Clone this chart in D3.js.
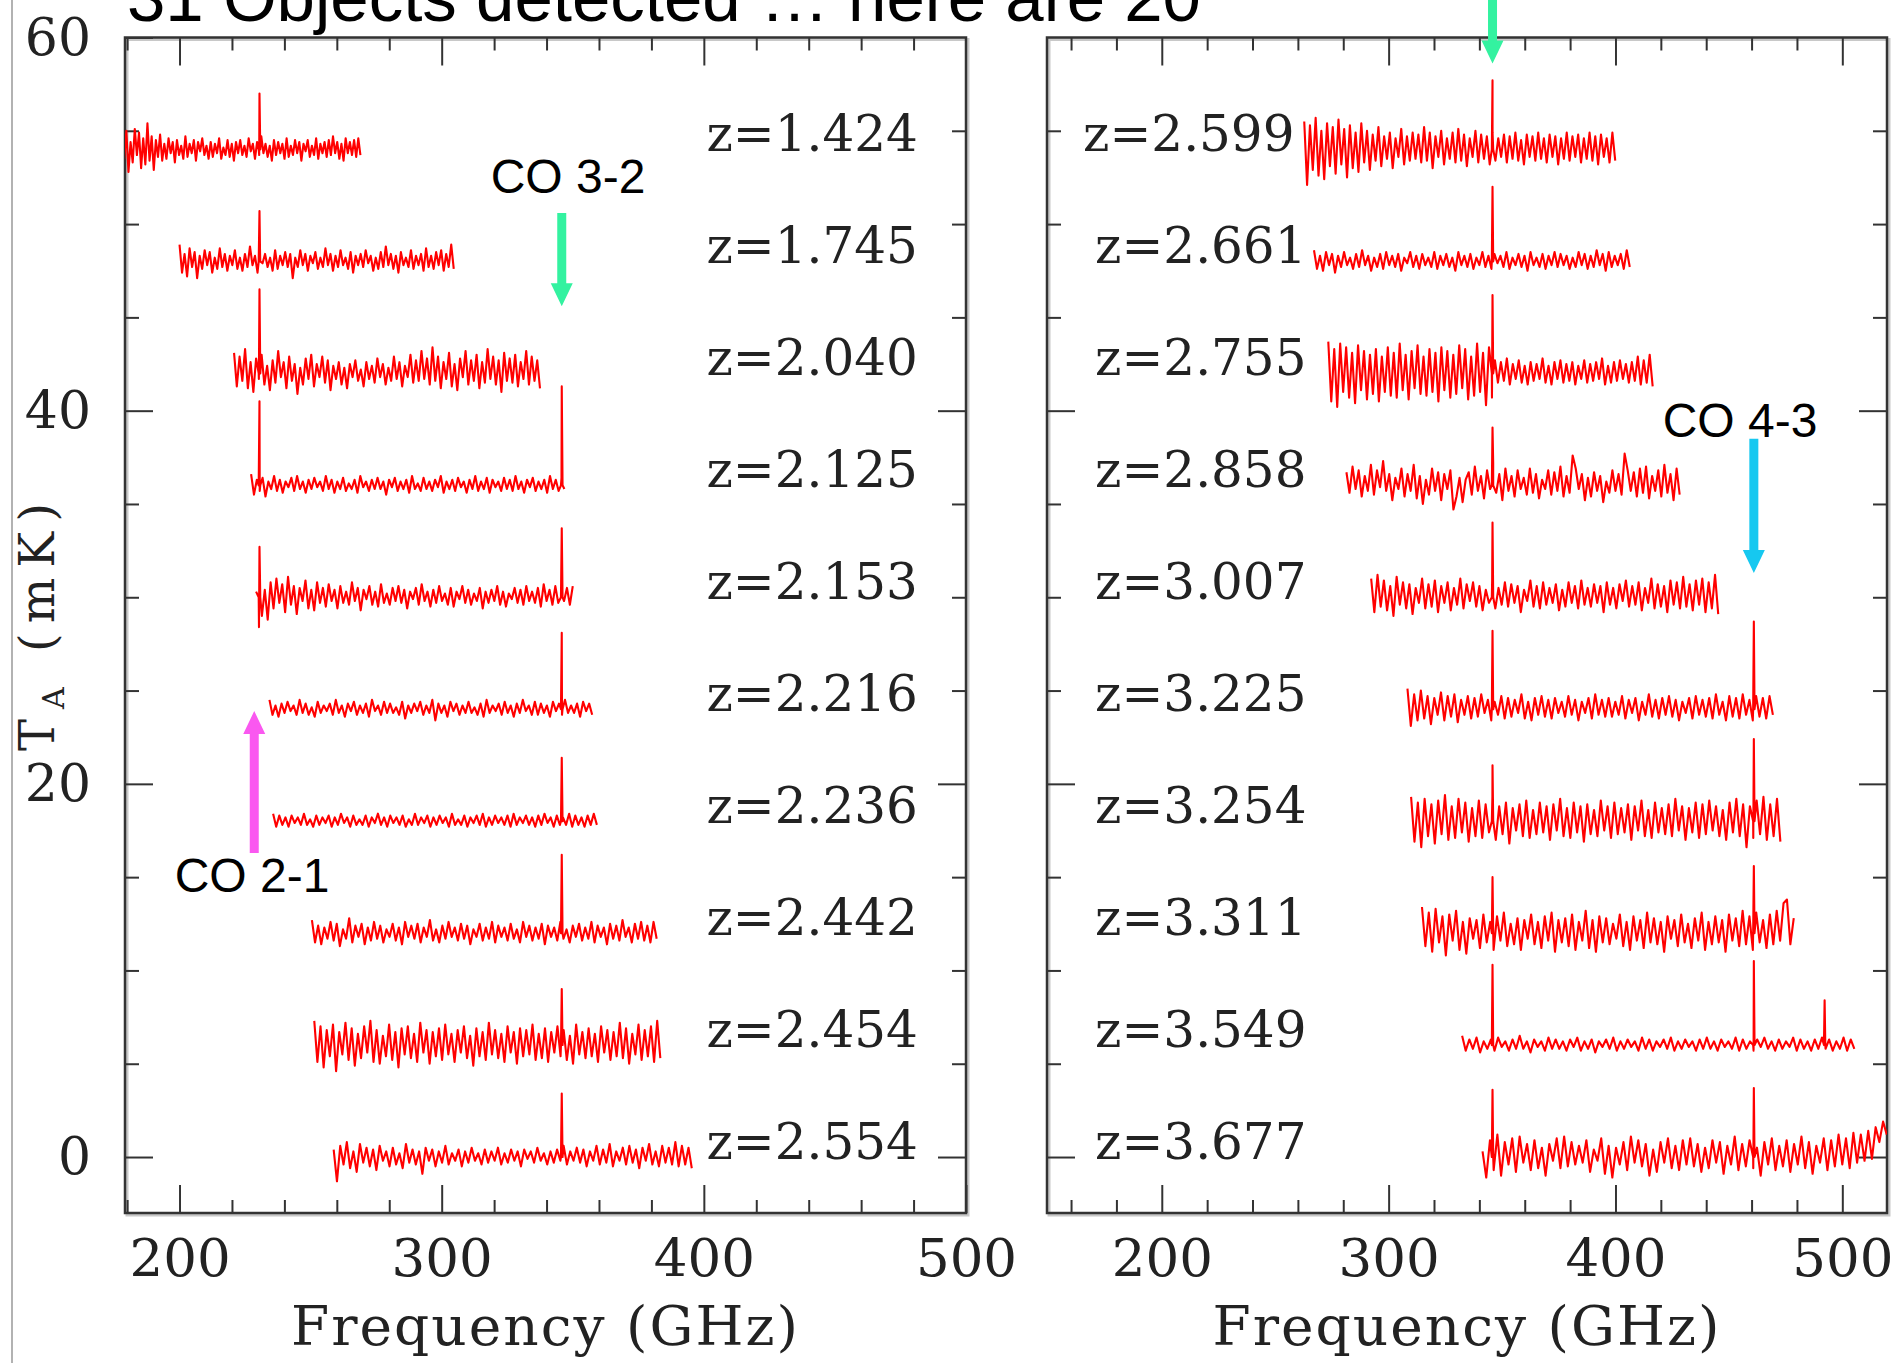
<!DOCTYPE html>
<html>
<head>
<meta charset="utf-8">
<script src="https://cdn.jsdelivr.net/npm/d3@7"></script>
<style>
  body { margin: 0; background: #fff; }
</style>
</head>
<body>
<svg width="1902" height="1363"></svg>
<script>
// redshift labels, one spectrum each (first ten in the left panel)
const zLabels = ['z=1.424', 'z=1.745', 'z=2.040', 'z=2.125', 'z=2.153',
                 'z=2.216', 'z=2.236', 'z=2.442', 'z=2.454', 'z=2.554',
                 'z=2.599', 'z=2.661', 'z=2.755', 'z=2.858', 'z=3.007',
                 'z=3.225', 'z=3.254', 'z=3.311', 'z=3.549', 'z=3.677']
const panelOf = [0, 0, 0, 0, 0, 0, 0, 0, 0, 0, 1, 1, 1, 1, 1, 1, 1, 1, 1, 1]

// rest-frame frequency coverage (GHz)
const freqStart = [176.5, 200.0, 220.8, 227.3, 229.2, 234.3, 235.7, 250.5, 251.4, 258.8,
                   262.8, 267.1, 273.4, 281.4, 292.3, 308.3, 309.9, 314.7, 332.4, 341.4]
const freqEnd = [269.0, 304.6, 337.5, 346.8, 350.0, 357.4, 359.2, 382.0, 383.4, 395.4,
                 399.9, 406.3, 416.4, 428.3, 445.3, 469.4, 472.7, 478.6, 505.3, 519.6]

// vertical offset of each spectrum (mK)
const baselines = [54, 48, 42, 36, 30, 24, 18, 12, 6, 0, 54, 48, 42, 36, 30, 24, 18, 12, 6, 0]

// emission lines: rest frequency (GHz) and peak above baseline (mK)
const lineFreqs = [[230.5], [230.5], [230.5], [230.5, 345.8], [230.5, 345.8],
                   [345.8], [345.8], [345.8], [345.8], [345.8],
                   [345.8], [345.8], [345.8], [345.8], [345.8],
                   [345.8, 461.0], [345.8, 461.0], [345.8, 461.0], [345.8, 461.0, 492.2], [345.8, 461.0]]
const lineHeights = [[3.0], [2.7], [4.5], [4.5, 5.3], [2.7, 3.7],
                     [4.1], [3.4], [4.2], [3.0], [3.4],
                     [3.7], [4.0], [4.2], [3.1], [4.0],
                     [4.2, 4.7], [3.0, 4.4], [3.0, 3.6], [4.3, 4.5, 2.4], [3.6, 3.7]]

// channel values read across each spectrum, in units of 0.1 mK about the baseline
const noise = [
  [8,-9,13,-5,10,-12,4,-7,11,-3,9,-10,6,-8,14,-6,7,-11,5,-4,8,-6,3,-5,6,-2,4,-7,5,-3,2,-5,7,-4,3,-2,5,-6,4,-1,
   6,-3,2,-5,4,-4,3,-2,6,-5,1,-3,5,-4,3,-6,4,-2,5,-3,2,-4,6,-1,3,-5,4,-3,7,-2,3,-4,2,-6,5,-3,4,-2,3,-5,
   6,-4,2,-3,5,-2,4,-6,3,-1,5,-4,2,-3,6,-5,3,-2,4,-4,5,-3,7,-2,4,-5,3,-6,6,-2,4,-3,5,-4,6,-3],
  [9,-6,4,-8,7,-3,5,-9,3,-4,6,-2,5,-6,2,-4,7,-3,4,-5,3,-2,6,-4,2,-5,4,-3,8,-2,3,-6,5,-1,4,-3,2,-5,6,-4,
   3,-2,5,-3,4,-9,2,-3,6,-2,4,-5,3,-1,5,-4,2,-3,7,-2,4,-5,3,-3,6,-2,2,-4,5,-6,3,-2,4,-3,6,-1,3,-5,2,-4,
   5,-3,8,-2,4,-4,3,-6,5,-2,2,-3,6,-4,3,-2,4,-5,7,-3,3,-4,5,-2,6,-5,4,-3,9,-4],
  [11,-7,9,-4,13,-8,6,-10,8,-3,10,-6,4,-9,7,-5,12,-2,6,-8,9,-4,5,-11,3,-6,8,-3,10,-7,5,-2,9,-5,7,-9,4,-3,6,-6,
   3,-8,5,-2,7,-4,2,-7,6,-3,4,-5,8,-2,5,-6,3,-4,9,-3,6,-7,4,-2,10,-5,7,-4,12,-3,8,-6,14,-4,9,-8,6,-3,11,-7,
   5,-9,8,-2,12,-6,7,-4,10,-8,6,-5,13,-3,9,-6,7,-10,11,-4,8,-5,10,-7,6,-3,12,-6,9,-4,7,-8],
  [6,-5,3,-3,4,-6,2,-2,5,-3,3,-4,2,-1,4,-3,5,-2,2,-4,3,-2,4,-1,2,-3,5,-2,3,-4,2,-2,4,-3,1,-2,3,-4,5,-1,
   2,-3,3,-2,4,-2,2,-5,3,-1,4,-3,2,-2,3,-4,5,-2,1,-3,4,-2,2,-3,3,-1,5,-4,2,-2,3,-3,4,-1,2,-4,3,-2,5,-3,
   2,-2,4,-4,3,-1,2,-3,4,-2,3,-3,5,-2,2,-4,3,-1,4,-3,2,-2,3,-4,5,-2,3,-3,4,-2],
  [3,-16,-10,4,-12,8,-6,10,-3,7,-8,11,-4,6,-9,5,-2,9,-6,4,-7,8,-3,5,-5,7,-2,4,-6,6,-3,3,-4,8,-2,5,-7,4,-1,6,
   -4,3,-5,7,-3,2,-4,5,-2,6,-3,4,-6,3,-1,5,-4,7,-2,3,-5,4,-3,6,-2,2,-4,5,-5,3,-1,6,-3,4,-4,2,-2,5,-6,3,
   -3,4,-2,6,-4,3,-5,2,-1,5,-3,4,-4,6,-2,3,-3,5,-5,7,-2,4,-4,6,-3,8,-2,5,-4,6],
  [5,-3,2,-4,3,-2,4,-1,2,-3,5,-2,3,-3,1,-4,4,-2,2,-1,3,-3,5,-2,2,-4,3,-1,4,-3,2,-2,3,-4,5,-1,2,-3,4,-2,
   3,-2,1,-3,4,-5,2,-2,3,-1,4,-3,2,-2,5,-6,3,-2,2,-4,4,-1,3,-3,2,-2,4,-2,1,-3,3,-4,5,-2,2,-1,3,-3,4,-2,
   2,-4,3,-2,5,-1,2,-3,4,-3,3,-2,2,-4,4,-1,3,-3,5,-2,2,-2,3,-4,4,-1,3,-3],
  [4,-3,3,-2,2,-3,3,-1,2,-2,4,-2,1,-3,3,-2,2,-1,3,-3,2,-2,4,-1,2,-3,3,-2,1,-2,3,-3,2,-1,4,-2,2,-3,3,-1,
   2,-2,3,-3,1,-2,4,-2,2,-1,3,-3,2,-2,3,-1,2,-3,4,-2,1,-2,3,-3,2,-1,3,-2,4,-3,2,-2,3,-1,2,-2,3,-3,4,-2,
   2,-1,3,-2,2,-3,3,-2,4,-1,2,-3,3,-2,2,-2,4,-3,3,-2,2,-3,3,-2,4,-2],
  [7,-5,4,-6,3,-3,6,-4,5,-7,2,-3,8,-5,4,-2,5,-6,3,-4,6,-3,4,-5,2,-2,5,-4,3,-6,6,-2,4,-3,5,-5,3,-2,7,-4,
   2,-5,4,-3,6,-2,3,-4,5,-3,4,-6,2,-2,5,-4,3,-3,6,-5,4,-2,3,-4,5,-3,2,-5,6,-2,4,-4,3,-3,5,-6,4,-2,3,-4,
   6,-3,2,-5,4,-2,5,-4,3,-3,6,-5,4,-2,3,-6,5,-3,4,-4,7,-2,3,-5,5,-3,6,-4,4,-5,6,-3],
  [13,-9,10,-12,8,-6,11,-14,7,-5,12,-8,9,-11,6,-7,10,-4,13,-9,8,-10,5,-6,11,-8,7,-12,9,-5,10,-7,6,-9,12,-4,8,-10,7,-6,
   9,-8,11,-5,6,-9,8,-4,10,-7,5,-11,9,-6,7,-8,12,-5,8,-7,6,-9,10,-4,7,-10,9,-6,8,-5,11,-8,6,-7,9,-9,7,-4,10,-6,
   8,-8,5,-10,11,-5,7,-7,9,-6,6,-9,10,-4,8,-8,7,-6,12,-7,9,-10,6,-5,11,-8,8,-6,10,-9,13,-7],
  [4,-13,6,-4,8,-6,3,-8,7,-3,5,-5,4,-7,6,-2,3,-5,5,-4,2,-6,7,-3,4,-4,3,-9,5,-2,4,-5,3,-3,6,-4,2,-2,4,-5,
   3,-3,5,-2,2,-4,4,-3,3,-2,5,-4,2,-3,4,-2,3,-5,4,-1,3,-3,5,-2,2,-4,3,-3,4,-2,6,-4,3,-2,5,-3,4,-5,3,-2,
   6,-4,4,-3,7,-5,3,-2,5,-4,6,-3,4,-6,5,-2,7,-4,3,-5,6,-3,5,-4,8,-5,6,-4,5,-6],
  [15,-19,13,-11,17,-14,10,-16,14,-9,12,-13,16,-8,11,-15,13,-10,9,-12,14,-7,10,-11,8,-6,12,-9,7,-5,9,-10,6,-4,11,-8,7,-6,9,-5,
   8,-7,12,-6,9,-10,7,-4,10,-8,6,-5,9,-7,11,-6,8,-9,6,-4,10,-7,8,-5,7,-8,9,-6,6,-4,8,-7,7,-5,9,-6,5,-8,8,-4,
   7,-6,9,-5,6,-7,8,-4,7,-8,6,-5,9,-6,7,-4,8,-7,6,-5,9,-6,7,-8,8,-4,6,-7,9,-6],
  [6,-4,3,-5,5,-2,4,-6,3,-3,5,-2,2,-4,4,-3,6,-2,3,-5,2,-3,4,-4,5,-2,3,-3,4,-5,2,-1,5,-3,3,-4,4,-2,2,-3,
   5,-4,3,-2,4,-3,2,-5,5,-2,3,-3,4,-4,2,-2,5,-3,3,-4,4,-1,3,-3,5,-4,2,-2,4,-3,3,-5,5,-2,2,-3,4,-4,3,-2,
   5,-3,4,-2,3,-4,2,-3,5,-2,4,-4,3,-3,6,-2,4,-5,5,-3,3,-2,4,-4,6,-3],
  [17,-15,13,-18,16,-10,14,-13,11,-16,15,-9,12,-14,10,-11,13,-15,9,-10,14,-12,11,-13,16,-9,10,-14,12,-8,15,-11,9,-12,13,-10,11,-15,14,-9,
   12,-13,10,-11,15,-8,13,-14,9,-12,16,-10,11,-17,14,-13,7,-5,6,-4,8,-6,5,-3,7,-5,4,-6,6,-4,5,-3,8,-5,4,-6,
   6,-3,7,-5,5,-4,6,-6,4,-3,7,-5,5,-4,6,-3,8,-6,4,-5,6,-4,7,-3,5,-5,6,-4,9,-6,7,-5,10,-7],
  [7,-4,10,-2,8,-6,5,-3,11,-5,8,-1,13,-3,6,-8,4,-2,9,-6,6,-3,11,-7,5,-10,3,-5,9,-3,7,-8,6,-2,8,-13,-6,4,-9,3,
   7,-5,10,-3,5,-7,8,-2,12,-4,6,-8,9,-3,5,-6,8,-2,4,-5,9,-4,6,-7,3,-2,8,-5,7,-3,10,-6,5,-4,16,9,-2,6,-8,4,
   -6,7,-3,5,-9,2,-4,8,-3,6,-5,17,8,-3,7,-6,9,-4,10,-7,5,-3,8,-6,11,-4,6,-8,9,-5],
  [10,-8,12,-5,9,-7,6,-10,11,-4,8,-6,7,-9,5,-3,10,-6,7,-5,9,-8,6,-3,8,-7,5,-4,10,-6,7,-2,8,-5,6,-7,4,-3,9,-6,
   5,-4,8,-5,7,-3,6,-8,4,-2,9,-5,6,-6,8,-4,5,-3,7,-7,4,-5,8,-3,6,-6,9,-4,5,-5,7,-3,6,-8,8,-4,5,-6,7,-2,
   9,-5,6,-4,8,-7,5,-3,10,-6,7,-5,6,-8,9,-4,8,-6,11,-5,7,-7,9,-4,10,-8,8,-6,12,-9],
  [11,-9,8,-6,10,-5,7,-8,6,-3,9,-6,7,-4,8,-7,5,-3,7,-5,6,-4,8,-2,5,-6,4,-3,7,-5,6,-4,5,-2,8,-5,4,-6,6,-3,
   7,-4,5,-5,6,-2,4,-4,7,-3,5,-6,4,-2,6,-5,8,-3,5,-4,6,-4,4,-3,7,-5,5,-2,6,-6,4,-3,8,-4,5,-5,6,-3,7,-4,
   5,-6,4,-2,6,-5,7,-3,5,-4,6,-5,8,-3,4,-6,7,-4,6,-5,8,-3,5,-6,7,-4,6,-5,7,-3],
  [13,-11,10,-14,12,-8,9,-12,11,-7,14,-10,8,-9,12,-6,10,-11,7,-8,11,-9,9,-6,13,-10,8,-7,10,-12,7,-5,9,-8,11,-9,6,-7,10,-6,
   8,-10,9,-5,12,-8,7,-9,10,-6,8,-11,9,-7,6,-8,11,-5,8,-9,10,-7,7,-6,9,-10,8,-5,11,-8,6,-9,10,-6,7,-7,9,-8,12,-5,
   8,-10,7,-6,10,-9,9,-7,11,-5,8,-8,6,-10,10,-6,12,-8,9,-14,8,-9,11,-7,13,-10,9,-8,12,-11],
  [14,-7,11,-10,13,-5,9,-12,10,-4,12,-9,6,-11,8,-3,7,-8,10,-5,6,-9,9,-4,11,-7,5,-6,8,-9,7,-3,10,-6,6,-8,9,-4,11,-10,
   7,-5,8,-7,10,-9,6,-4,12,-8,7,-10,9,-5,8,-6,5,-3,10,-7,6,-9,9,-4,7,-8,11,-5,8,-6,6,-10,9,-3,7,-7,10,-5,5,-8,
   8,-4,11,-9,6,-6,9,-5,7,-10,10,-4,8,-7,12,-6,9,-9,11,-5,7,-8,10,-6,12,-4,16,18,-6,8],
  [5,-3,3,-2,4,-4,2,-2,3,-3,4,-1,2,-3,3,-2,5,-2,2,-4,3,-1,2,-3,4,-2,3,-2,2,-3,3,-1,4,-3,2,-2,3,-4,2,-1,
   3,-2,4,-3,2,-2,3,-1,2,-3,4,-2,3,-3,2,-1,3,-2,4,-3,2,-2,3,-1,2,-3,3,-2,4,-2,2,-3,3,-1,2,-2,4,-3,3,-2,
   2,-3,3,-1,4,-2,2,-3,3,-2,2,-1,4,-3,3,-2,2,-3,3,-2,4,-2,3,-3,2,-2,4,-3,3,-2],
  [3,-11,9,-7,12,-10,8,-4,10,-8,11,-3,7,-7,9,-6,5,-10,7,-2,10,-6,11,-5,8,-4,6,-3,9,-8,4,-2,10,-9,6,-11,5,-4,8,-7,
   11,-3,9,-5,7,-10,4,-8,8,-3,10,-6,6,-7,9,-4,10,-5,7,-8,5,-6,9,-3,8,-9,6,-4,11,-7,7,-5,9,-6,5,-10,8,-4,10,-7,
   6,-5,9,-8,7,-4,11,-6,8,-9,6,-3,10,-7,9,-5,12,-4,10,-6,13,-3,12,-2,14,-1,16,8,19,12]
]

// axis ticks
const yLabelTicks = [0, 20, 40, 60]
const yMajorTicks = [0, 20, 40]
const yMinorTicks = [5, 10, 15, 25, 30, 35, 45, 50, 55]
const xLabelTicks = [200, 300, 400, 500]

// line annotations
const noteText = ['CO 3-2', 'CO 2-1', 'CO 4-3', '']
const noteFreq = [345.8, 228.5, 461.0, 345.8]
const notePanel = [0, 0, 1, 1]
const noteTail = [50.6, 16.3, 38.5, 62.5]
const noteTip = [45.6, 23.9, 31.3, 58.6]
const noteColor = ['#33f2a0', '#fa58f0', '#16c8f0', '#33f2a0']

const svg = d3.select('svg')
const width = +svg.attr('width')
const height = +svg.attr('height')

const serif = "'DejaVu Serif', serif"
const sans = "'Liberation Sans', Arial, sans-serif"

const plotTop = 37.5
const plotBottom = 1213
const yScale = d3.scaleLinear().domain([-3, 60]).range([plotBottom, plotTop])

const panels = [
  { x: d3.scaleLinear().domain([179.2, 500]).range([125, 966]), labelFreq: 401.0, yLabels: true },
  { x: d3.scaleLinear().domain([149.4, 519.7]).range([1047, 1887]), labelFreq: 170.6, yLabels: false }
]

// thin slide edge on the left
svg.append('line')
  .attr('x1', 12).attr('x2', 12).attr('y1', 0).attr('y2', height)
  .attr('stroke', '#999').attr('stroke-width', 1.5)

// title, partly cut off at the top as in the slide
svg.append('text')
  .attr('x', 127).attr('y', 21)
  .attr('font-family', sans).attr('font-size', 69)
  .attr('fill', '#000')
  .text('31 Objects detected … here are 20')

panels.forEach((p, k) => {
  const [x0, x1] = p.x.range()
  const g = svg.append('g')

  g.append('clipPath').attr('id', 'clip' + k)
    .append('rect').attr('x', x0).attr('y', plotTop).attr('width', x1 - x0).attr('height', plotBottom - plotTop)

  // frame with a soft shadow
  g.append('rect')
    .attr('x', x0 + 2).attr('y', plotTop + 2).attr('width', x1 - x0).attr('height', plotBottom - plotTop)
    .attr('fill', 'none').attr('stroke', '#c8c8c8').attr('stroke-width', 3)
  g.append('rect')
    .attr('x', x0).attr('y', plotTop).attr('width', x1 - x0).attr('height', plotBottom - plotTop)
    .attr('fill', 'none').attr('stroke', '#333').attr('stroke-width', 2.5)

  const xMinor = d3.range(160, 501, 20).filter(v => v % 100 !== 0 && v > p.x.domain()[0])
  const xMajor = xLabelTicks.filter(v => v < p.x.domain()[1])

  const addAxis = (axis, transform, labels) => {
    const ag = g.append('g').attr('transform', transform).call(axis)
    ag.select('.domain').remove()
    ag.selectAll('line').attr('stroke', '#333').attr('stroke-width', 2)
    if (!labels) ag.selectAll('text').remove()
    ag.attr('font-family', serif).attr('fill', '#222')
    ag.selectAll('text').attr('fill', '#222')
    return ag
  }

  // bottom / top
  addAxis(d3.axisBottom(p.x).tickValues(xLabelTicks).tickSize(-28).tickPadding(25).tickFormat(d3.format('d')),
    `translate(0,${plotBottom})`, true).attr('font-size', 53)
  addAxis(d3.axisBottom(p.x).tickValues(xMinor).tickSize(-13), `translate(0,${plotBottom})`, false)
  addAxis(d3.axisTop(p.x).tickValues(xMajor).tickSize(-28), `translate(0,${plotTop})`, false)
  addAxis(d3.axisTop(p.x).tickValues(xMinor).tickSize(-13), `translate(0,${plotTop})`, false)

  // left / right
  addAxis(d3.axisLeft(yScale).tickValues(p.yLabels ? yLabelTicks : yMajorTicks).tickSize(-28).tickPadding(34)
    .tickFormat(d3.format('d')), `translate(${x0},0)`, p.yLabels).attr('font-size', 52)
  addAxis(d3.axisLeft(yScale).tickValues(yMinorTicks).tickSize(-14), `translate(${x0},0)`, false)
  addAxis(d3.axisRight(yScale).tickValues(yMajorTicks).tickSize(-28), `translate(${x1},0)`, false)
  addAxis(d3.axisRight(yScale).tickValues(yMinorTicks).tickSize(-14), `translate(${x1},0)`, false)

  // axis title
  g.append('text')
    .attr('x', (x0 + x1) / 2).attr('y', 1345)
    .attr('text-anchor', 'middle')
    .attr('font-family', serif).attr('font-size', 55).attr('letter-spacing', 2)
    .attr('fill', '#222')
    .text('Frequency (GHz)')

  // spectra
  const line = d3.line().x(d => p.x(d[0])).y(d => yScale(d[1]))
  const ids = d3.range(zLabels.length).filter(i => panelOf[i] === k)
  const specG = g.append('g').attr('clip-path', `url(#clip${k})`)

  ids.forEach(i => {
    const vals = noise[i]
    const step = (freqEnd[i] - freqStart[i]) / (vals.length - 1)
    const pts = vals.map((v, j) => [freqStart[i] + j * step, baselines[i] + v / 10])
    lineFreqs[i].forEach((f, m) => {
      pts.push([f - 0.3, baselines[i]], [f, baselines[i] + lineHeights[i][m]], [f + 0.3, baselines[i]])
    })
    pts.sort((a, b) => a[0] - b[0])

    specG.append('path')
      .attr('d', line(pts))
      .attr('fill', 'none')
      .attr('stroke', '#ff0000')
      .attr('stroke-width', 2.1)
      .attr('stroke-linejoin', 'round')

    g.append('text')
      .attr('x', p.x(p.labelFreq) + (i === 10 ? -12 : 0))
      .attr('y', yScale(baselines[i]) + 2)
      .attr('font-family', serif).attr('font-size', 50)
      .attr('fill', '#222')
      .text(zLabels[i])
  })
})

// y axis title: T_A (mK)
const yTitle = svg.append('text')
  .attr('transform', 'translate(54,622) rotate(-90)')
  .attr('text-anchor', 'middle')
  .attr('font-family', serif).attr('font-size', 48).attr('letter-spacing', 10)
  .attr('fill', '#222')
yTitle.append('tspan').text('T')
yTitle.append('tspan').attr('font-size', 30).attr('dy', 10).text('A')
yTitle.append('tspan').attr('dy', -10).text(' (mK)')

// arrows and line names
noteText.forEach((t, i) => {
  const px = panels[notePanel[i]].x(noteFreq[i])
  const yTail = yScale(noteTail[i])
  const yTip = yScale(noteTip[i])
  const dir = yTip > yTail ? 1 : -1
  const yBase = yTip - dir * 23
  const path = d3.path()
  path.moveTo(px - 4.5, yTail)
  path.lineTo(px + 4.5, yTail)
  path.lineTo(px + 4.5, yBase)
  path.lineTo(px + 11, yBase)
  path.lineTo(px, yTip)
  path.lineTo(px - 11, yBase)
  path.lineTo(px - 4.5, yBase)
  path.closePath()
  svg.append('path').attr('d', path.toString()).attr('fill', noteColor[i])
})

svg.append('text').attr('x', 568).attr('y', 193)
  .attr('text-anchor', 'middle').attr('font-family', sans).attr('font-size', 48)
  .text(noteText[0])
svg.append('text').attr('x', 252).attr('y', 892)
  .attr('text-anchor', 'middle').attr('font-family', sans).attr('font-size', 48)
  .text(noteText[1])
svg.append('text').attr('x', 1740).attr('y', 437)
  .attr('text-anchor', 'middle').attr('font-family', sans).attr('font-size', 48)
  .text(noteText[2])
</script>
</body>
</html>
